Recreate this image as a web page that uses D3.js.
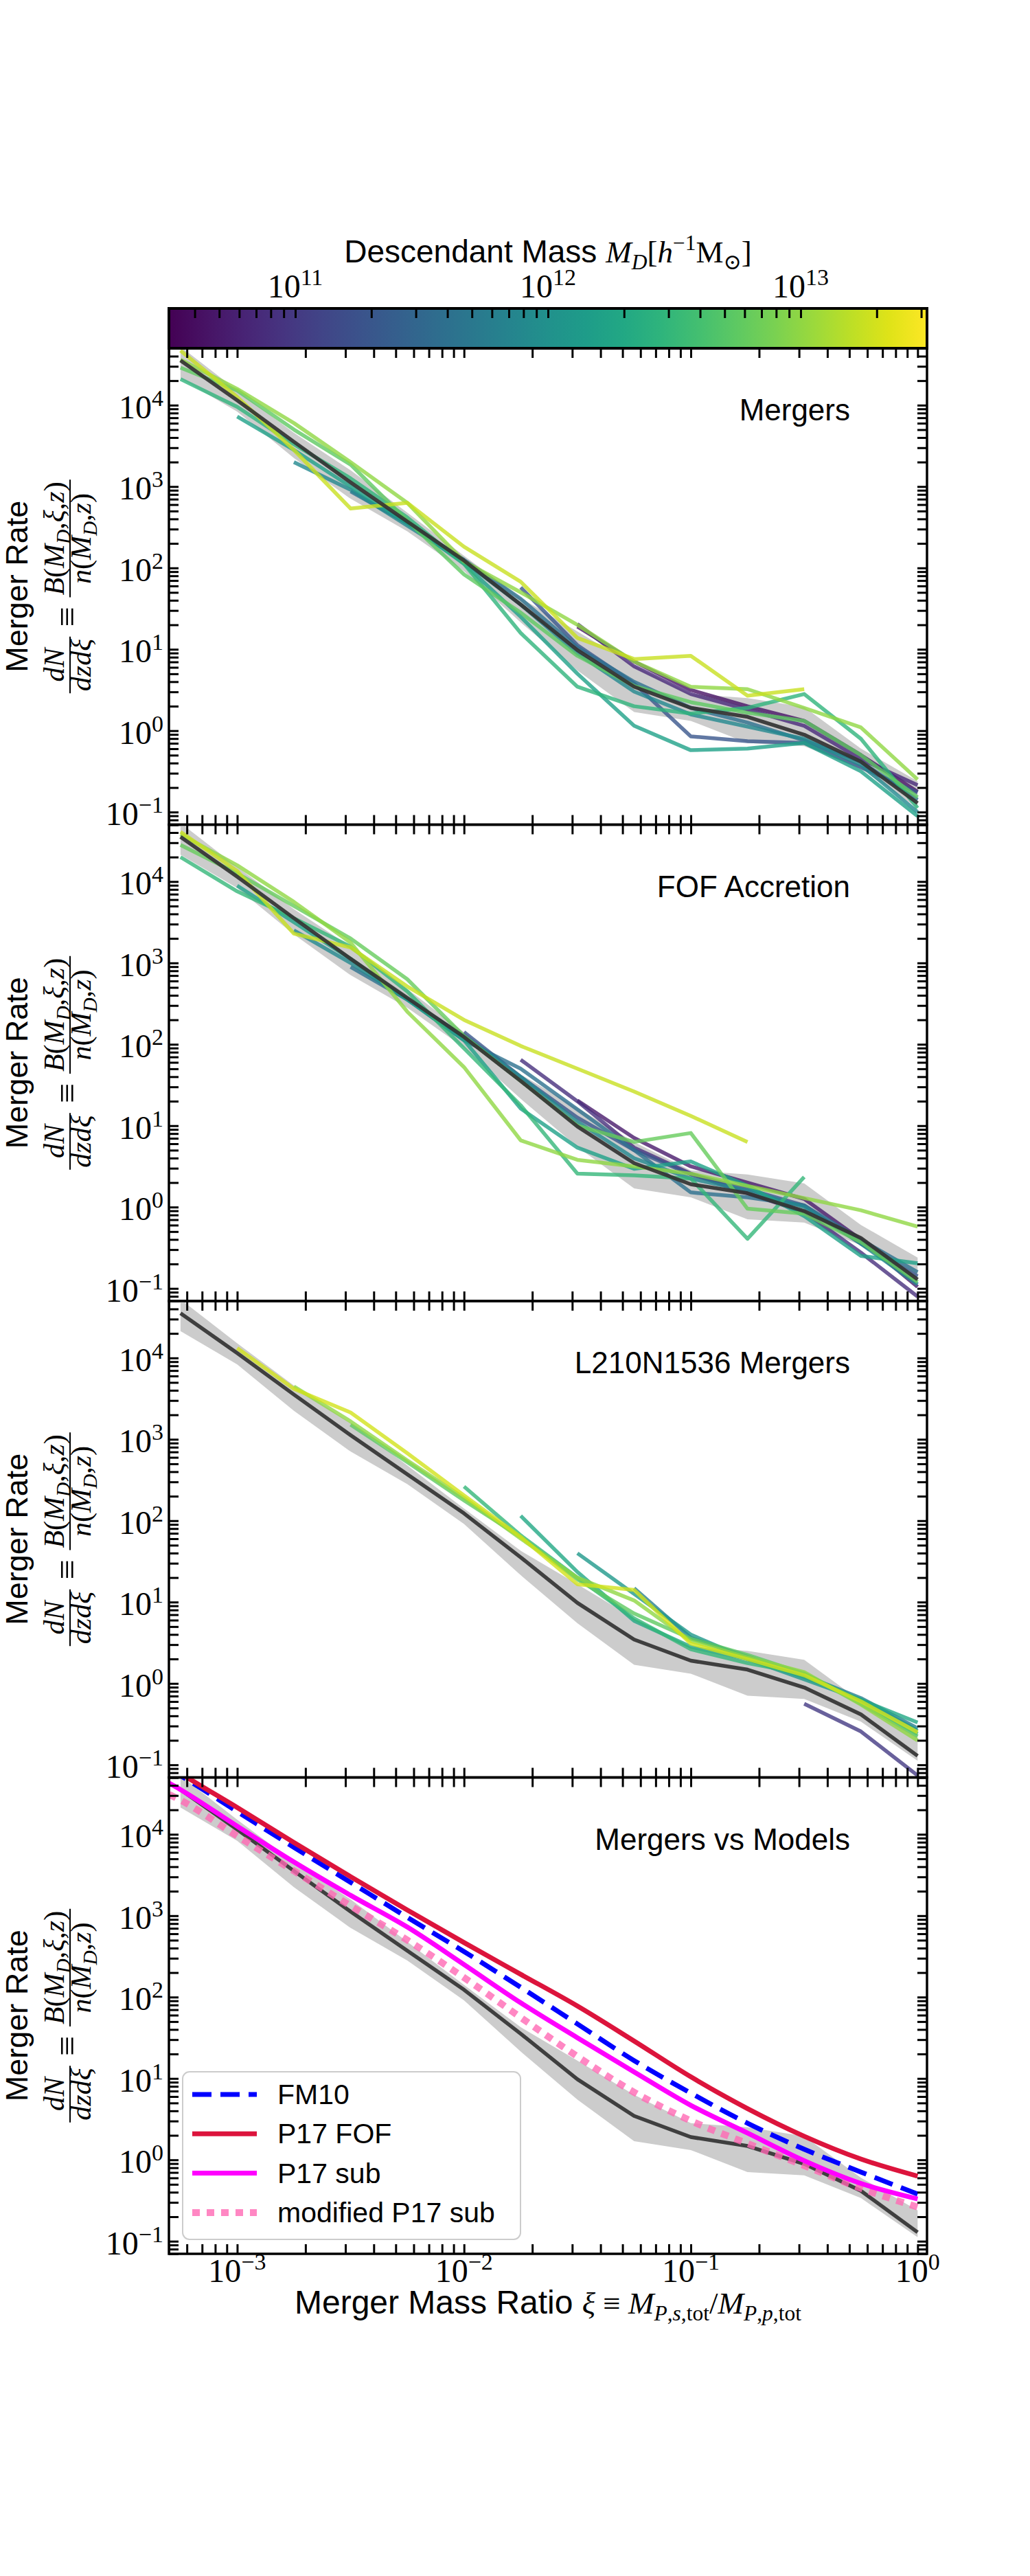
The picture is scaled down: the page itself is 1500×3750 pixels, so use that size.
<!DOCTYPE html>
<html>
<head>
<meta charset="utf-8">
<script src="https://cdn.jsdelivr.net/npm/d3@7"></script>
<style>body{margin:0;background:#fff}</style>
</head>
<body>
<svg id="fig" width="1500" height="3750"></svg>
<script>
// log10 of merger mass ratio xi, shared by every binned curve
var xiLog = [-3.25, -3.0, -2.75, -2.5, -2.25, -2.0, -1.75, -1.5, -1.25, -1.0, -0.75, -0.5, -0.25, 0.0];

// median merger rate (log10) and the grey spread around it
var medianLog = [4.55, 4.06, 3.55, 3.05, 2.57, 2.09, 1.55, 0.99, 0.54, 0.28, 0.17, -0.05, -0.38, -0.89];
var bandLo = [4.33, 3.92, 3.35, 2.85, 2.45, 1.96, 1.33, 0.74, 0.23, 0.12, -0.15, -0.19, -0.47, -0.95];
var bandHi = [4.72, 4.18, 3.66, 3.20, 2.68, 2.15, 1.63, 1.22, 0.80, 0.45, 0.40, 0.29, -0.22, -0.62];

// panel 1: Mergers (log10 descendant mass, first xi index, log10 rates)
var p1Mass = [13.25, 13.0, 12.75, 12.45, 12.2, 11.9, 11.6, 11.3, 10.85, 10.65];
var p1Start = [0, 0, 0, 0, 1, 2, 3, 6, 7, 7];
var p1Rate = [
  [4.67, 4.10, 3.45, 2.73, 2.80, 2.26, 1.83, 1.14, 0.88, 0.92, 0.43, 0.51],
  [4.56, 4.20, 3.78, 3.30, 2.80, 2.08, 1.70, 1.30, 0.85, 0.54, 0.51, 0.28, 0.04, -0.60],
  [4.46, 4.18, 3.70, 3.27, 2.58, 1.92, 1.45, 0.92, 0.55, 0.35, 0.22, 0.12, -0.30, -0.82],
  [4.32, 3.98, 3.52, 3.10, 2.62, 2.05, 1.20, 0.54, 0.30, 0.21, 0.28, 0.45, -0.10, -0.95],
  [3.86, 3.45, 3.00, 2.55, 2.05, 1.40, 0.70, 0.06, -0.24, -0.22, -0.15, -0.50, -1.05],
  [3.30, 2.96, 2.52, 2.08, 1.55, 0.95, 0.48, 0.20, 0.05, -0.10, -0.42, -1.00],
  [2.94, 2.55, 2.10, 1.62, 1.02, 0.60, 0.28, 0.10, -0.12, -0.38, -0.85],
  [1.76, 1.05, 0.58, -0.07, -0.13, -0.15, -0.45, -0.76],
  [1.31, 0.79, 0.45, 0.26, 0.06, -0.35, -0.67],
  [1.28, 0.85, 0.50, 0.30, 0.12, -0.30, -0.75]
];

// panel 2: FOF Accretion
var p2Mass = [13.25, 13.0, 12.8, 12.5, 12.2, 11.9, 11.6, 11.3, 10.9, 10.7];
var p2Start = [0, 0, 0, 0, 1, 2, 3, 5, 6, 7];
var p2Rate = [
  [4.61, 4.13, 3.36, 3.19, 2.71, 2.30, 1.98, 1.70, 1.42, 1.12, 0.80],
  [4.58, 4.20, 3.75, 3.25, 2.40, 1.72, 0.82, 0.58, 0.50, 0.41, 0.26, 0.11, -0.04, -0.24],
  [4.45, 4.10, 3.70, 3.30, 2.80, 2.10, 1.55, 1.00, 0.80, 0.91, -0.02, -0.08, -0.43, -0.92],
  [4.30, 3.88, 3.55, 3.20, 2.65, 1.95, 1.25, 0.41, 0.39, 0.35, -0.39, 0.37],
  [3.95, 3.50, 3.05, 2.55, 2.05, 1.21, 0.73, 0.47, 0.56, 0.26, -0.11, -0.60, -0.69],
  [3.40, 3.00, 2.55, 2.10, 1.60, 1.05, 0.60, 0.35, 0.20, 0.00, -0.45, -0.95],
  [2.95, 2.55, 2.05, 1.70, 1.20, 0.70, 0.18, 0.12, 0.02, -0.40, -0.80],
  [2.15, 1.60, 1.10, 0.70, 0.40, 0.22, 0.02, -0.45, -0.85],
  [1.81, 1.30, 0.73, 0.41, 0.17, -0.06, -0.56, -1.10],
  [1.31, 0.85, 0.50, 0.30, 0.10, -0.40, -0.98]
];

// panel 3: L210N1536 Mergers
var p3Mass = [13.3, 13.0, 12.75, 12.5, 12.3, 12.1, 11.8, 11.0];
var p3Start = [1, 2, 3, 5, 6, 7, 8, 11];
var p3Rate = [
  [4.12, 3.62, 3.33, 2.83, 2.31, 1.80, 1.22, 1.15, 0.49, 0.30, 0.10, -0.22, -0.60],
  [3.65, 3.22, 2.74, 2.28, 1.78, 1.30, 1.02, 0.52, 0.32, 0.14, -0.26, -0.70],
  [3.18, 2.72, 2.25, 1.80, 1.28, 0.86, 0.55, 0.35, 0.12, -0.25, -0.65],
  [2.42, 1.82, 1.30, 0.80, 0.42, 0.25, 0.12, -0.22, -0.62],
  [2.06, 1.37, 0.77, 0.45, 0.30, 0.08, -0.20, -0.48],
  [1.60, 1.10, 0.60, 0.30, 0.05, -0.20, -0.58],
  [1.17, 0.56, 0.33, 0.10, -0.18, -0.55],
  [-0.25, -0.59, -1.13]
];

// panel 4: model curves (log10 xi, log10 rate)
var modelXi = [-3.30, -3.25, -3.0, -2.75, -2.5, -2.25, -2.0, -1.75, -1.5, -1.25, -1.0, -0.75, -0.5, -0.25, 0.0];
var fm10Log = [4.80, 4.72, 4.28, 3.84, 3.41, 2.98, 2.56, 2.12, 1.67, 1.22, 0.82, 0.45, 0.13, -0.15, -0.42];
var p17fofLog = [4.84, 4.75, 4.33, 3.90, 3.48, 3.07, 2.67, 2.28, 1.89, 1.46, 1.02, 0.63, 0.29, 0.01, -0.20];
var p17subLog = [4.63, 4.55, 4.10, 3.66, 3.25, 2.86, 2.40, 1.93, 1.50, 1.08, 0.67, 0.33, -0.01, -0.29, -0.48];
var p17modLog = [4.49, 4.42, 3.98, 3.55, 3.12, 2.70, 2.24, 1.75, 1.27, 0.83, 0.48, 0.20, -0.07, -0.35, -0.58];
var modelNames = ["FM10", "P17 FOF", "P17 sub", "modified P17 sub"];

var panelNames = ["Mergers", "FOF Accretion", "L210N1536 Mergers", "Mergers vs Models"];
var yLabelPows = [-1, 0, 1, 2, 3, 4];
var xLabelPows = [-3, -2, -1, 0];
var cbLabelPows = [11, 12, 13];

var SANS = "'Liberation Sans', Arial, sans-serif";
var SERIF = "'Liberation Serif', 'DejaVu Serif', serif";

var svg = d3.select("#fig");
svg.append("rect").attr("width", 1500).attr("height", 3750).attr("fill", "#fff");

var L = 246, R = 1350, T0 = 507, PH = 693.5;
var x = d3.scaleLog().domain([5e-4, 1.1]).range([L, R]);
var cmass = d3.scaleSequential(d3.interpolateViridis).domain([10.5, 13.5]);

// write mixed math runs: flags i=italic, b=subscript, p=superscript, s=sans
function runs(t, parts, size, sansSize) {
  var cur = 0;
  parts.forEach(function (p) {
    var f = p[1] || "";
    var base = f.indexOf("s") >= 0 && sansSize ? sansSize : size;
    var target = f.indexOf("b") >= 0 ? size * 0.22 : (f.indexOf("p") >= 0 ? -size * 0.4 : 0);
    t.append("tspan")
      .attr("dy", target - cur)
      .attr("font-size", target === 0 ? base : size * 0.7)
      .attr("font-style", f.indexOf("i") >= 0 ? "italic" : "normal")
      .attr("font-family", f.indexOf("s") >= 0 ? SANS : SERIF)
      .text(p[0]);
    cur = target;
  });
  return t;
}

function powLabel(g, px, py, e, anchor) {
  var t = g.append("text").attr("x", px).attr("y", py).attr("text-anchor", anchor)
    .attr("font-family", SERIF).attr("fill", "#000");
  t.append("tspan").attr("font-size", 48).text("10");
  t.append("tspan").attr("font-size", 34).attr("dy", -18).text(String(e).replace("-", "\u2212"));
}

var sets = [
  {mass: p1Mass, start: p1Start, rate: p1Rate},
  {mass: p2Mass, start: p2Start, rate: p2Rate},
  {mass: p3Mass, start: p3Start, rate: p3Rate},
  null
];

var models = [
  {v: fm10Log, color: "#0000ff", w: 7, dash: "28,13", op: 1},
  {v: p17fofLog, color: "#dc143c", w: 7, dash: null, op: 1},
  {v: p17subLog, color: "#ff00ff", w: 7, dash: null, op: 1},
  {v: p17modLog, color: "#ff69b4", w: 10, dash: "11,10", op: 0.8}
];

panelNames.forEach(function (name, i) {
  var top = T0 + i * PH;
  var y = d3.scaleLog().domain([0.07, 5e4]).range([top + PH, top]);
  var g = svg.append("g");
  var clipId = "clip" + i;
  svg.append("clipPath").attr("id", clipId).append("rect")
    .attr("x", L).attr("y", top).attr("width", R - L).attr("height", PH);
  var plot = g.append("g").attr("clip-path", "url(#" + clipId + ")");

  var line = d3.line()
    .x(function (d) { return x(Math.pow(10, d[0])); })
    .y(function (d) { return y(Math.pow(10, d[1])); });

  var area = d3.area()
    .x(function (k) { return x(Math.pow(10, xiLog[k])); })
    .y0(function (k) { return y(Math.pow(10, bandLo[k])); })
    .y1(function (k) { return y(Math.pow(10, bandHi[k])); });
  plot.append("path").datum(d3.range(xiLog.length)).attr("d", area).attr("fill", "#cccccc");

  var set = sets[i];
  if (set) {
    for (var j = set.mass.length - 1; j >= 0; j--) {
      var pts = set.rate[j].map(function (v, k) { return [xiLog[set.start[j] + k], v]; });
      plot.append("path").datum(pts).attr("d", line)
        .attr("fill", "none").attr("stroke", cmass(set.mass[j]))
        .attr("stroke-width", 5.5).attr("stroke-opacity", 0.8)
        .attr("stroke-linejoin", "round");
    }
  }

  var med = medianLog.map(function (v, k) { return [xiLog[k], v]; });
  plot.append("path").datum(med).attr("d", line)
    .attr("fill", "none").attr("stroke", "#333").attr("stroke-width", 5.5)
    .attr("stroke-opacity", 0.92).attr("stroke-linejoin", "round");

  if (!set) {
    var curve = d3.line().curve(d3.curveMonotoneX)
      .x(function (d) { return x(Math.pow(10, d[0])); })
      .y(function (d) { return y(Math.pow(10, d[1])); });
    [3, 2, 0, 1].forEach(function (m) {
      var s = models[m];
      plot.append("path").datum(s.v.map(function (v, k) { return [modelXi[k], v]; }))
        .attr("d", curve).attr("fill", "none").attr("stroke", s.color)
        .attr("stroke-width", s.w).attr("stroke-dasharray", s.dash)
        .attr("stroke-opacity", s.op);
    });
  }

  // ticks, all pointing inward
  function ticksOn(axis, tx, ty) {
    var a = g.append("g").attr("transform", "translate(" + tx + "," + ty + ")")
      .call(axis.tickSizeInner(-14).tickSizeOuter(0).tickFormat(""));
    a.select(".domain").remove();
    a.selectAll(".tick line").attr("stroke", "#000").attr("stroke-width", 3);
  }
  ticksOn(d3.axisBottom(x), 0, top + PH);
  ticksOn(d3.axisTop(x), 0, top);
  ticksOn(d3.axisLeft(y), L, 0);
  ticksOn(d3.axisRight(y), R, 0);

  g.append("rect").attr("x", L).attr("y", top).attr("width", R - L).attr("height", PH)
    .attr("fill", "none").attr("stroke", "#000").attr("stroke-width", 3.5);

  yLabelPows.forEach(function (e) {
    powLabel(g, 238, y(Math.pow(10, e)) + 19, e, "end");
  });

  g.append("text").attr("x", 1238).attr("y", top + 105).attr("text-anchor", "end")
    .attr("font-family", SANS).attr("font-size", 44).text(name);

  // y axis label: two lines, rotated
  var yl = g.append("g").attr("transform", "translate(0," + (top + PH / 2) + ") rotate(-90)");
  yl.append("text").attr("x", 0).attr("y", 40).attr("text-anchor", "middle")
    .attr("font-family", SANS).attr("font-size", 45).text("Merger Rate");
  var fs = 42;
  var n1 = runs(yl.append("text").attr("y", 93).attr("text-anchor", "middle"), [["dN", "i"]], fs);
  var d1 = runs(yl.append("text").attr("y", 132).attr("text-anchor", "middle"), [["dzd\u03be", "i"]], fs);
  var eq = yl.append("text").attr("y", 115).attr("text-anchor", "middle")
    .attr("font-family", SERIF).attr("font-size", 52).text("\u2261");
  var n2 = runs(yl.append("text").attr("y", 93).attr("text-anchor", "middle"),
    [["B", "i"], ["(", ""], ["M", "i"], ["D", "ib"], [",", ""], ["\u03be", "i"], [",", ""], ["z", "i"], [")", ""]], fs);
  var d2 = runs(yl.append("text").attr("y", 132).attr("text-anchor", "middle"),
    [["n", "i"], ["(", ""], ["M", "i"], ["D", "ib"], [",", ""], ["z", "i"], [")", ""]], fs);
  var w1 = Math.max(n1.node().getComputedTextLength(), d1.node().getComputedTextLength()) + 6;
  var w2 = Math.max(n2.node().getComputedTextLength(), d2.node().getComputedTextLength()) + 6;
  var we = eq.node().getComputedTextLength();
  var gap = 14;
  var start = -(w1 + we + w2 + 2 * gap) / 2;
  var c1 = start + w1 / 2, ce = start + w1 + gap + we / 2, c2 = start + w1 + 2 * gap + we + w2 / 2;
  n1.attr("x", c1); d1.attr("x", c1); eq.attr("x", ce); n2.attr("x", c2); d2.attr("x", c2);
  yl.append("line").attr("x1", start).attr("x2", start + w1).attr("y1", 102).attr("y2", 102)
    .attr("stroke", "#000").attr("stroke-width", 2);
  yl.append("line").attr("x1", c2 - w2 / 2).attr("x2", c2 + w2 / 2).attr("y1", 102).attr("y2", 102)
    .attr("stroke", "#000").attr("stroke-width", 2);

  if (i === panelNames.length - 1) {
    xLabelPows.forEach(function (e) {
      powLabel(g, x(Math.pow(10, e)), 3322, e, "middle");
    });
    var xl = g.append("text").attr("x", (L + R) / 2).attr("y", 3368).attr("text-anchor", "middle");
    runs(xl, [["Merger Mass Ratio ", "s"], ["\u03be ", "i"], ["\u2261 ", ""], ["M", "i"],
      ["P", "ib"], [",", "b"], ["s", "ib"], [",", "b"], ["tot", "b"], ["/", ""], ["M", "i"],
      ["P", "ib"], [",", "b"], ["p", "ib"], [",", "b"], ["tot", "b"]], 45, 48);

    // legend
    var lg = g.append("g");
    lg.append("rect").attr("x", 266).attr("y", 3016).attr("width", 492).attr("height", 244)
      .attr("rx", 10).attr("fill", "#fff").attr("fill-opacity", 0.8)
      .attr("stroke", "#cccccc").attr("stroke-width", 2);
    modelNames.forEach(function (nm, k) {
      var s = models[k];
      var cy = 3049 + k * 57.3;
      lg.append("line").attr("x1", 280).attr("x2", 374).attr("y1", cy).attr("y2", cy)
        .attr("stroke", s.color).attr("stroke-width", s.w)
        .attr("stroke-dasharray", s.dash).attr("stroke-opacity", s.op);
      lg.append("text").attr("x", 404).attr("y", cy + 14).attr("font-family", SANS)
        .attr("font-size", 41).text(nm);
    });
  }
});

// colorbar on top
var cbTop = 449, cbH = T0 - 449;
var cb = d3.scaleLog().domain([Math.pow(10, 10.5), Math.pow(10, 13.5)]).range([L, R]);
var grad = svg.append("defs").append("linearGradient").attr("id", "vir")
  .attr("x1", 0).attr("x2", 1).attr("y1", 0).attr("y2", 0);
d3.range(0, 1.0001, 0.05).forEach(function (t) {
  grad.append("stop").attr("offset", t).attr("stop-color", d3.interpolateViridis(t));
});
svg.append("rect").attr("x", L).attr("y", cbTop).attr("width", R - L).attr("height", cbH)
  .attr("fill", "url(#vir)");
var cbAx = svg.append("g").attr("transform", "translate(0," + cbTop + ")")
  .call(d3.axisTop(cb).tickSizeInner(-14).tickSizeOuter(0).tickFormat(""));
cbAx.select(".domain").remove();
cbAx.selectAll(".tick line").attr("stroke", "#000").attr("stroke-width", 3);
svg.append("rect").attr("x", L).attr("y", cbTop).attr("width", R - L).attr("height", cbH)
  .attr("fill", "none").attr("stroke", "#000").attr("stroke-width", 4);
cbLabelPows.forEach(function (e) {
  powLabel(svg, cb(Math.pow(10, e)), 433, e, "middle");
});
var ct = svg.append("text").attr("x", (L + R) / 2).attr("y", 382).attr("text-anchor", "middle");
runs(ct, [["Descendant Mass ", "s"], ["M", "i"], ["D", "ib"], ["[", ""], ["h", "i"],
  ["\u22121", "p"], ["M", ""], ["\u2299", "b"], ["]", ""]], 45, 46);
</script>
</body>
</html>
